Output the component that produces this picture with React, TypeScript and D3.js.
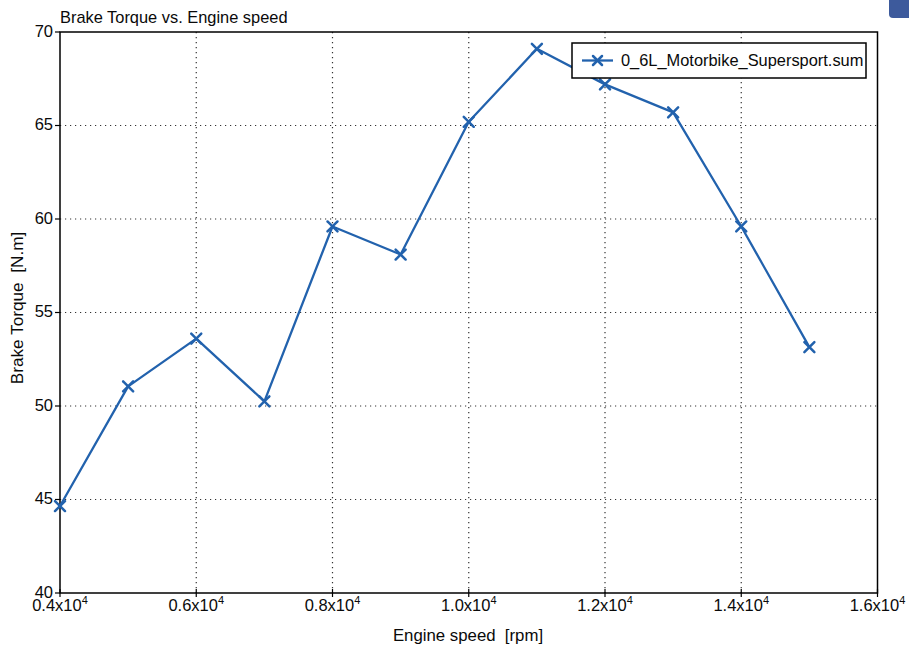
import React from "react";
import * as d3 from "d3";

const rpm = [4000, 5000, 6000, 7000, 8000, 9000, 10000, 11000, 12000, 13000, 14000, 15000];
const torque = [44.65, 51.05, 53.6, 50.25, 59.6, 58.1, 65.2, 69.1, 67.2, 65.7, 59.6, 53.15];
const xTicks = [4000, 6000, 8000, 10000, 12000, 14000, 16000];
const xTickLabels = ["0.4", "0.6", "0.8", "1.0", "1.2", "1.4", "1.6"];
const yTicks = [40, 45, 50, 55, 60, 65, 70];
const seriesName = "0_6L_Motorbike_Supersport.sum";
const title = "Brake Torque vs. Engine speed";
const xLabel = "Engine speed  [rpm]";
const yLabel = "Brake Torque  [N.m]";

const W = 909;
const H = 649;
const L = 60, R = 877.5, T = 32, B = 593;
const FONT = "'Liberation Sans', Arial, sans-serif";
const BLUE = "#2262ad";
const INK = "#0a0a0a";

function Cross({ cx, cy, s = 5, color = BLUE }: { cx: number; cy: number; s?: number; color?: string }) {
  return (
    <g stroke={color} strokeWidth={2.5} strokeLinecap="round">
      <line x1={cx - s} y1={cy - s} x2={cx + s} y2={cy + s} />
      <line x1={cx - s} y1={cy + s} x2={cx + s} y2={cy - s} />
    </g>
  );
}

export default function App() {
  const x = d3.scaleLinear().domain([4000, 16000]).range([L, R]);
  const y = d3.scaleLinear().domain([40, 70]).range([B, T]);
  const pts: [number, number][] = rpm.map((r, i) => [r, torque[i]]);
  const line = d3.line<[number, number]>().x((d) => x(d[0])).y((d) => y(d[1]));

  return (
    <svg width={W} height={H} style={{ position: "absolute", left: 0, top: 0, background: "#fff" }} fontFamily={FONT}>
      <rect x={0} y={0} width={W} height={H} fill="#fff" />
      <rect x={889} y={-6} width={24} height={24} rx={4} fill="#3d5a9c" />
      <text x={L} y={22.5} fontSize={16.4} fill={INK}>{title}</text>

      {/* grid */}
      <g stroke="#333" strokeWidth={1.2} strokeDasharray="1.2,3.8">
        {xTicks.slice(1, -1).map((t) => (
          <line key={"gx" + t} x1={x(t)} x2={x(t)} y1={T} y2={B} />
        ))}
        {yTicks.slice(1, -1).map((t) => (
          <line key={"gy" + t} x1={L} x2={R} y1={y(t)} y2={y(t)} />
        ))}
      </g>

      {/* frame */}
      <rect x={L} y={T} width={R - L} height={B - T} fill="none" stroke="#000" strokeWidth={1.5} />

      {/* y ticks */}
      {yTicks.map((t) => (
        <g key={"yt" + t}>
          <line x1={L - 5} x2={L} y1={y(t)} y2={y(t)} stroke="#000" strokeWidth={1.2} />
          <text x={L - 7} y={y(t)} dy="0.3em" textAnchor="end" fontSize={16.5} fill={INK}>{t}</text>
        </g>
      ))}

      {/* x ticks */}
      {xTicks.map((t, i) => (
        <g key={"xt" + t}>
          <line x1={x(t)} x2={x(t)} y1={B - 4} y2={B + 4} stroke="#000" strokeWidth={1.2} />
          <text x={x(t)} y={611} textAnchor="middle" fontSize={16.5} fill={INK}>
            {xTickLabels[i] + "x10"}
            <tspan fontSize={11} dy={-7}>4</tspan>
          </text>
        </g>
      ))}

      <text x={468} y={641} textAnchor="middle" fontSize={16.8} fill={INK} style={{ whiteSpace: "pre" }}>{xLabel}</text>
      <text transform={`translate(23,${308}) rotate(-90)`} textAnchor="middle" fontSize={17.2} fill={INK} style={{ whiteSpace: "pre" }}>{yLabel}</text>

      {/* series */}
      <path d={line(pts) || ""} fill="none" stroke={BLUE} strokeWidth={2.3} strokeLinejoin="round" />
      {pts.map((p, i) => (
        <Cross key={"m" + i} cx={x(p[0])} cy={y(p[1])} />
      ))}

      {/* legend */}
      <rect x={572} y={43} width={294} height={35} fill="#fff" stroke="#000" strokeWidth={1.5} />
      <line x1={582} x2={613} y1={60.5} y2={60.5} stroke={BLUE} strokeWidth={2.3} />
      <Cross cx={597.5} cy={60.5} s={4.5} />
      <text x={621} y={60.5} dy="0.36em" fontSize={16.4} fill={INK}>{seriesName}</text>
    </svg>
  );
}
